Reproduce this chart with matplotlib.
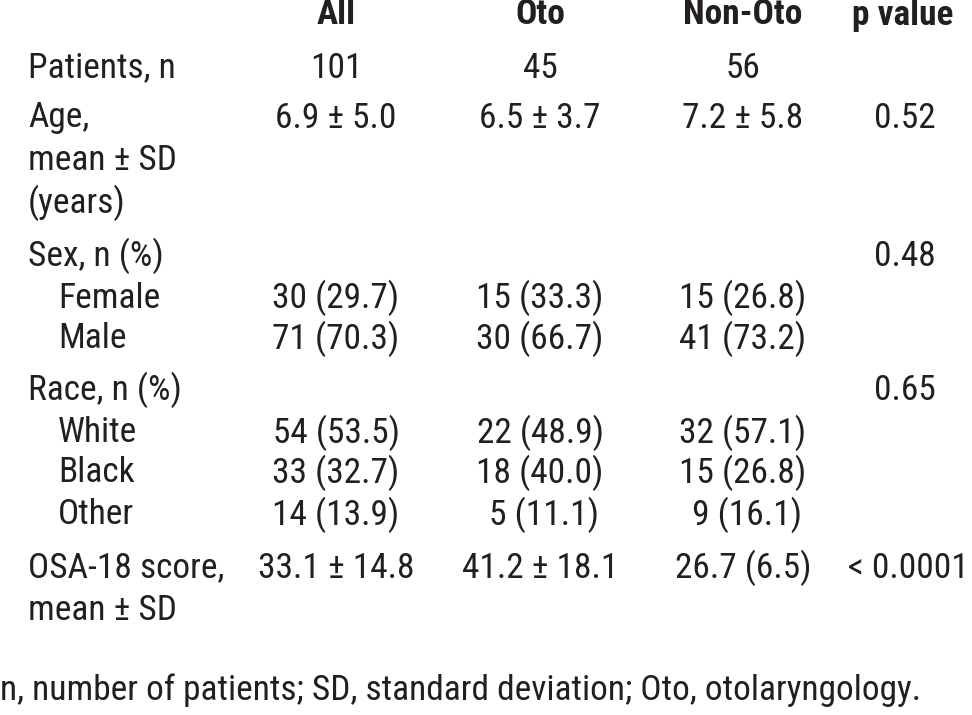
import matplotlib
matplotlib.use("Agg")
import matplotlib.pyplot as plt
from matplotlib import font_manager

names = {f.name for f in font_manager.fontManager.ttflist}
prefs = ["Liberation Sans Narrow", "Nimbus Sans Narrow", "Arial Narrow", "Roboto Condensed",
         "Archivo Narrow", "PT Sans Narrow", "Liberation Sans"]
main_font = next(n for n in prefs if n in names)
plt.rcParams['font.family'] = [main_font, "DejaVu Sans"]

headers = ["All", "Oto", "Non-Oto", "p value"]
row_labels = ["Patients, n", "Age,\nmean ± SD\n(years)", "Sex, n (%)", "Female", "Male",
              "Race, n (%)", "White", "Black", "Other", "OSA-18 score,\nmean ± SD"]
indented = [False, False, False, True, True, False, True, True, True, False]
col_all = ["101", "6.9 ± 5.0", "", "30 (29.7)", "71 (70.3)", "", "54 (53.5)", "33 (32.7)", "14 (13.9)", "33.1 ± 14.8"]
col_oto = ["45", "6.5 ± 3.7", "", "15 (33.3)", "30 (66.7)", "", "22 (48.9)", "18 (40.0)", " 5 (11.1)", "41.2 ± 18.1"]
col_non = ["56", "7.2 ± 5.8", "", "15 (26.8)", "41 (73.2)", "", "32 (57.1)", "15 (26.8)", " 9 (16.1)", "26.7 (6.5)"]
col_p = ["", "0.52", "0.48", "", "", "0.65", "", "", "", "< 0.0001"]
footnote = "n, number of patients; SD, standard deviation; Oto, otolaryngology."

W, H = 972, 715
fig = plt.figure(figsize=(W / 100, H / 100), dpi=100)
ax = fig.add_axes([0, 0, 1, 1])
ax.set_xlim(0, W)
ax.set_ylim(H, 0)
ax.axis("off")
color = "#231f20"

# calibrate font size so the footnote spans its reference width
renderer = fig.canvas.get_renderer()
probe = ax.text(0, 690, footnote, fontsize=20)
wpx = probe.get_window_extent(renderer).width
probe.remove()
fs = 20 * 918 / wpx

row_y = [68, 118, 256, 298, 339, 390, 433, 473, 515, 568]
line_h = 42.5
col_x = [336, 540, 743, 903]

for x, h in zip(col_x, headers):
    ax.text(x, 15, h, ha="center", va="center", fontsize=fs, fontweight="bold", color=color)

for i, lab in enumerate(row_labels):
    x0 = 58 if indented[i] else 28
    for j, part in enumerate(lab.split("\n")):
        ax.text(x0, row_y[i] + j * line_h, part, ha="left", va="center", fontsize=fs, color=color)
    for x, col in zip(col_x, [col_all, col_oto, col_non]):
        if col[i]:
            ax.text(x, row_y[i], col[i], ha="center", va="center", fontsize=fs, color=color)
    if col_p[i]:
        if col_p[i].startswith("<"):
            ax.text(969, row_y[i], col_p[i], ha="right", va="center", fontsize=fs, color=color)
        else:
            ax.text(905, row_y[i], col_p[i], ha="center", va="center", fontsize=fs, color=color)

ax.text(0, 690, footnote, ha="left", va="center", fontsize=fs, color=color)

fig.savefig("out.png", dpi=100)
